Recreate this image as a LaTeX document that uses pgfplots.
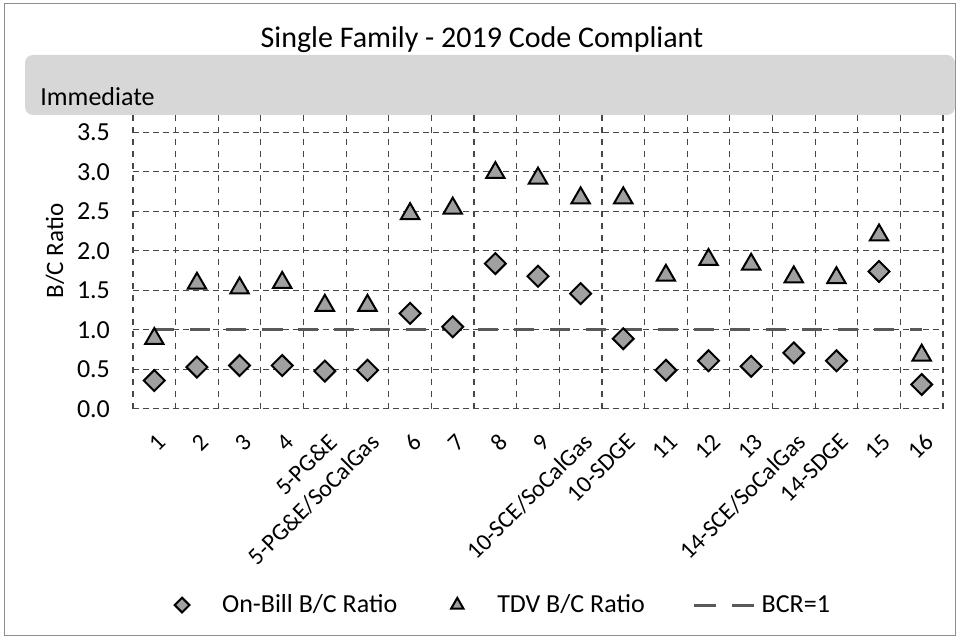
\documentclass[border=0pt]{standalone}
\usepackage{fontspec}
\setmainfont{Carlito}
\usepackage{pgfplots}
\pgfplotsset{compat=1.18}
\definecolor{gridc}{RGB}{70,70,70}
\definecolor{markfill}{RGB}{160,160,160}
\definecolor{bandfill}{RGB}{215,215,215}
\pgfplotsset{
 diamondleg/.style={legend image code/.code={\path[draw=none] (0pt,0pt) -- (24pt,0pt);
   \draw[##1, only marks, mark size=2.6pt] plot coordinates {(6pt,0pt)};}},
 triangleleg/.style={legend image code/.code={\path[draw=none] (0pt,0pt) -- (24pt,0pt);
   \draw[##1, only marks, mark size=3.6pt] plot coordinates {(6pt,0pt)};}},
 bcrleg/.style={legend image code/.code={\draw[##1, dash pattern=on 11pt off 8pt] (0pt,0pt) -- (31pt,0pt);}},
}
\begin{document}
\begin{tikzpicture}[x=0.5pt,y=0.5pt]
% frame, title, band (positions in px of a 959x640 picture, y from bottom)
\draw[black!45, line width=0.5pt] (4,4) rectangle (955,636);
\node[font=\fontsize{15}{17}\selectfont] at (482,600) {Single Family - 2019 Code Compliant};
\fill[bandfill, rounded corners=4pt] (25,585) rectangle (955,525);
\node[anchor=west, font=\fontsize{13}{15}\selectfont, inner sep=0pt] at (40,543) {Immediate};
\begin{axis}[
 at={(66.5pt,115.5pt)}, anchor=south west,
 scale only axis, width=405pt, height=147pt,
 xmin=0.5, xmax=19.5, ymin=0, ymax=3.72,
 axis line style={draw=none},
 major tick length=0pt, minor tick length=0pt,
 xtick={1,...,19},
 xticklabels={1,2,3,4,5-PG\&E,5-PG\&E/SoCalGas,6,7,8,9,10-SCE/SoCalGas,10-SDGE,11,12,13,14-SCE/SoCalGas,14-SDGE,15,16},
 minor xtick={0.5,1.5,...,19.5},
 ytick={0,0.5,...,3.5},
 xminorgrids=true, ymajorgrids=true,
 grid style={gridc, densely dashed, line width=0.5pt},
 minor grid style={gridc, dashed, line width=0.6pt},
 yticklabel style={/pgf/number format/fixed, /pgf/number format/fixed zerofill,
   /pgf/number format/precision=1, /pgf/number format/assume math mode=true,
   font=\fontsize{13}{15}\selectfont, xshift=-8pt},
 xticklabel style={font=\fontsize{12}{14}\selectfont, rotate=45, anchor=east, yshift=-13pt, xshift=-4pt},
 ylabel={B/C Ratio},
 ylabel style={font=\fontsize{12.5}{14}\selectfont, at={(axis description cs:-0.0963,0.537)}, anchor=center},
 legend columns=3,
 legend style={draw=none, fill=none, at={(0.4556,-0.667)}, anchor=center,
   font=\fontsize{13}{15}\selectfont, /tikz/every even column/.append style={column sep=22pt}},
 clip=false,
]
\addplot[only marks, mark=square*, mark size=3.7pt,
 mark options={rotate=45, fill=markfill, draw=black, line width=1pt}, diamondleg] coordinates {
 (1,0.36) (2,0.53) (3,0.55) (4,0.55) (5,0.48) (6,0.49) (7,1.21) (8,1.04) (9,1.84) (10,1.68)
 (11,1.46) (12,0.89) (13,0.49) (14,0.61) (15,0.54) (16,0.71) (17,0.61) (18,1.74) (19,0.31)
}; \addlegendentry{On-Bill B/C Ratio}
\addplot[only marks, mark=triangle*, mark size=5.3pt,
 mark options={fill=markfill, draw=black, line width=1pt}, triangleleg] coordinates {
 (1,0.89) (2,1.59) (3,1.53) (4,1.60) (5,1.31) (6,1.31) (7,2.47) (8,2.54) (9,2.99) (10,2.92)
 (11,2.67) (12,2.67) (13,1.69) (14,1.89) (15,1.83) (16,1.67) (17,1.66) (18,2.20) (19,0.68)
}; \addlegendentry{TDV B/C Ratio}
\addplot[black!65, line width=1.5pt, dash pattern=on 10pt off 8pt, bcrleg] coordinates {
 (1,1) (2,1) (3,1) (4,1) (5,1) (6,1) (7,1) (8,1) (9,1) (10,1)
 (11,1) (12,1) (13,1) (14,1) (15,1) (16,1) (17,1) (18,1) (19,1)
}; \addlegendentry{BCR=1}
\end{axis}
\pgfresetboundingbox
\path (0,0) rectangle (959,640);
\end{tikzpicture}
\end{document}
